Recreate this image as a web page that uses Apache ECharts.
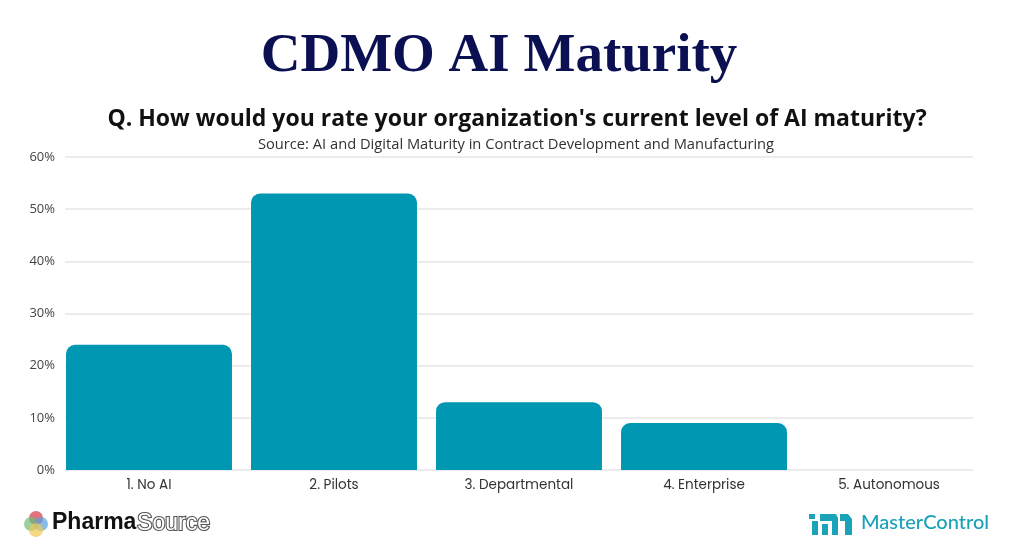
<!DOCTYPE html>
<html>
<head>
<meta charset="utf-8">
<script src="https://cdn.jsdelivr.net/npm/echarts@6/dist/echarts.min.js"></script>
<style>
html,body{margin:0;padding:0;background:#fff;}
#chart{width:1024px;height:550px;}
</style>
</head>
<body>
<div id="chart"></div>
<script>
// ---- data ----
const categories = ['1. No AI', '2. Pilots', '3. Departmental', '4. Enterprise', '5. Autonomous'];
const shares = [24, 53, 13, 9, 0];   // percent of respondents
const yTicks = { min: 0, max: 60, interval: 10 };
const titleText = 'CDMO AI Maturity';
const questionText = "Q. How would you rate your organization's current level of AI maturity?";
const sourceText = 'Source: AI and Digital Maturity in Contract Development and Manufacturing';

const chart = echarts.init(document.getElementById('chart'));
const barColor = '#0097b2';

const option = {
  backgroundColor: '#ffffff',
  animation: false,
  grid: [
    { left: 65, right: 51, top: 157, bottom: 80 },
    { left: 56.5, width: 925, top: 157, bottom: 80 }
  ],
  xAxis: [
    { gridIndex: 0, type: 'value', min: 0, max: 1, show: false },
    {
      gridIndex: 1, type: 'category', data: categories,
      axisLine: { show: false }, axisTick: { show: false },
      axisLabel: { margin: 9, color: '#333', fontSize: 13.5, fontFamily: 'Poppins, "Open Sans", sans-serif' }
    }
  ],
  yAxis: [
    {
      gridIndex: 0, type: 'value', min: yTicks.min, max: yTicks.max, interval: yTicks.interval,
      axisLine: { show: false }, axisTick: { show: false },
      axisLabel: { formatter: '{value}%', color: '#444', fontSize: 13, margin: 10, fontFamily: '"Open Sans", sans-serif' },
      splitLine: { lineStyle: { color: '#e6e6e6', width: 1.5 } }
    },
    { gridIndex: 1, type: 'value', min: yTicks.min, max: yTicks.max, interval: yTicks.interval, show: false }
  ],
  series: [{
    type: 'bar', xAxisIndex: 1, yAxisIndex: 1,
    data: shares,
    barCategoryGap: '10.3%',
    itemStyle: { color: barColor, borderRadius: [9, 9, 0, 0] }
  }],
  graphic: [
    { type: 'text', x: 499, y: 29, style: { text: titleText, align: 'center', fill: '#0b1052', font: 'bold 55px "Liberation Serif", "DejaVu Serif", serif' } },
    { type: 'text', x: 517, y: 108, style: { text: questionText, align: 'center', fill: '#111', font: 'bold 23px "Open Sans", sans-serif' } },
    { type: 'text', x: 516, y: 137, style: { text: sourceText, align: 'center', fill: '#333', font: '14.7px "Open Sans", sans-serif' } },
    // PharmaSource logo
    { type: 'circle', shape: { cx: 36, cy: 518, r: 7 }, style: { fill: 'rgba(214,70,80,0.75)' } },
    { type: 'circle', shape: { cx: 31, cy: 524, r: 7 }, style: { fill: 'rgba(110,190,120,0.7)' } },
    { type: 'circle', shape: { cx: 41, cy: 524, r: 7 }, style: { fill: 'rgba(90,160,220,0.7)' } },
    { type: 'circle', shape: { cx: 36, cy: 530, r: 7 }, style: { fill: 'rgba(240,200,80,0.7)' } },
    { type: 'text', left: 52, top: 511, style: { text: 'Pharma', fill: '#111', font: 'bold 23px "Liberation Sans", Arial, sans-serif' } },
    { type: 'text', left: 136, top: 511, style: { text: 'Source', fill: '#fff', stroke: '#555', lineWidth: 2.2, font: '23px "Liberation Sans", Arial, sans-serif' } },
    // MasterControl logo
    { type: 'rect', shape: { x: 809, y: 514, width: 6, height: 5 }, style: { fill: '#1aa2b8' } },
    { type: 'rect', shape: { x: 812, y: 521, width: 6, height: 14 }, style: { fill: '#1aa2b8' } },
    { type: 'polygon', shape: { points: [[820,514],[836,514],[838,518],[838,535],[832,535],[832,521],[820,521]] }, style: { fill: '#1aa2b8' } },
    { type: 'rect', shape: { x: 822, y: 524, width: 6, height: 11 }, style: { fill: '#1aa2b8' } },
    { type: 'polygon', shape: { points: [[840,514],[848,514],[852,519],[852,535],[845,535],[845,521],[840,521]] }, style: { fill: '#1aa2b8' } },
    { type: 'text', left: 861, top: 513, style: { text: 'MasterControl', fill: '#1aa2b8', font: '500 20px Lato, "Open Sans", sans-serif' } }
  ]
};
chart.setOption(option);
</script>
</body>
</html>
